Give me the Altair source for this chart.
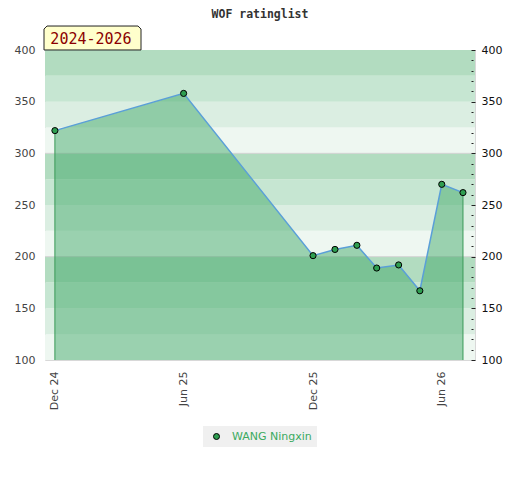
import altair as alt
import pandas as pd

# ---- data ----
dates = ["2024-12-01", "2025-06-01", "2025-12-01", "2026-01-01", "2026-02-01",
         "2026-03-01", "2026-04-01", "2026-05-01", "2026-06-01", "2026-07-01"]
ratings = [322, 358, 201, 207, 211, 189, 192, 167, 270, 262]
player = "WANG Ningxin"
period_label = "2024-2026"
title_text = "WOF ratinglist"

band_lo = list(range(100, 400, 25))
band_colors = ["#eef7f1", "#dbeee2", "#c6e6d2", "#b2dcc0"] * 3
grid_levels = [200, 300]
y_left_ticks = [100, 150, 200, 250, 300, 350, 400]
y_right_ticks = list(range(100, 401, 10))
x_tick_dates = ["2024-12-01", "2025-06-01", "2025-12-01", "2026-06-01"]
x_domain_dates = ["2024-11-17", "2026-07-18"]


def dt(s):
    y, m, d = (int(p) for p in s.split("-"))
    return alt.DateTime(year=y, month=m, date=d, utc=True)


df = pd.DataFrame({"date": dates, "rating": ratings, "player": [player] * len(dates)})
edges = df.iloc[[0, len(df) - 1]]
bands = pd.DataFrame({"lo": band_lo, "hi": [v + 25 for v in band_lo], "shade": band_colors})
grid = pd.DataFrame({"level": grid_levels})
label_df = pd.DataFrame({"label": [period_label]})

GREEN = "#3ca664"
LINE_BLUE = "#5a9fd8"
POINT_GREEN = "#2e9e50"
FONT = "DejaVu Sans"

ys = alt.Scale(domain=[100, 400], nice=False, zero=False)
xs = alt.Scale(type="utc", domain=[dt(x_domain_dates[0]), dt(x_domain_dates[1])], nice=False)

x_axis = alt.Axis(values=[dt(s) for s in x_tick_dates], format="%b %y", labelAngle=-90,
                  ticks=False, tickSize=0, domain=False, grid=False, labelPadding=11,
                  labelColor="#444", labelFont=FONT, labelFontSize=11, labelFlush=False,
                  title=None)
X = alt.X("date:T", scale=xs, axis=x_axis)

left_axis = alt.Axis(orient="left", values=y_left_ticks, ticks=False, domain=False, grid=False,
                     labelPadding=10, labelColor="#444", labelFont=FONT, labelFontSize=11,
                     title=None, zindex=1)
right_axis = alt.Axis(orient="right", values=y_right_ticks,
                      labelExpr="datum.value % 50 === 0 ? datum.label : ''",
                      tickSize={"condition": {"test": "datum.value % 50 === 0", "value": 4}, "value": 2},
                      domain=False, grid=False, offset=-4, labelPadding=6,
                      labelColor="#111", tickColor="#222", labelFont=FONT, labelFontSize=11,
                      labelOverlap=False, title=None, zindex=1)

band_layer = alt.Chart(bands).mark_rect().encode(
    y=alt.Y("lo:Q", scale=ys, axis=left_axis),
    y2="hi:Q",
    color=alt.Color("shade:N", scale=None, legend=None),
)

grid_layer = alt.Chart(grid).mark_rule(color="#d2d2d2", strokeWidth=1).encode(
    y=alt.Y("level:Q", scale=ys, axis=None)
)

area_layer = alt.Chart(df).mark_area(color=GREEN, opacity=0.47).encode(
    x=X, y=alt.Y("rating:Q", scale=ys, axis=None), y2=alt.datum(100)
)

edge_layer = alt.Chart(edges).mark_rule(color="#3a9a58", strokeWidth=1).encode(
    x=X, y=alt.Y("rating:Q", scale=ys, axis=None), y2=alt.datum(100)
)

line_layer = alt.Chart(df).mark_line(color=LINE_BLUE, strokeWidth=1.5).encode(
    x=X, y=alt.Y("rating:Q", scale=ys, axis=right_axis)
)

point_layer = alt.Chart(df).mark_point(filled=True, size=38, stroke="black", strokeWidth=1,
                                       opacity=1).encode(
    x=X, y=alt.Y("rating:Q", scale=ys, axis=None),
    fill=alt.Fill("player:N", scale=alt.Scale(range=[POINT_GREEN]),
                  legend=alt.Legend(title=None, orient="none", legendX=158, legendY=376,
                                    fillColor="#f0f0f0", padding=5, symbolType="circle",
                                    symbolSize=36, symbolStrokeColor="black",
                                    symbolStrokeWidth=1, symbolOffset=3, labelOffset=10,
                                    labelColor="#3aaa5f", labelFont=FONT, labelFontSize=11)),
)

box_path = "M-1,0.247 L-1,-0.185 L-0.938,-0.247 L0.938,-0.247 L1,-0.185 L1,0.247 Z"
box_layer = alt.Chart(label_df).mark_point(shape=box_path, size=9409, filled=True,
                                           fill="#ffffcc", stroke="#222", strokeWidth=1,
                                           opacity=1).encode(
    x=alt.value(47.5), y=alt.value(-12)
)
text_layer = alt.Chart(label_df).mark_text(font="DejaVu Sans Mono", fontSize=15, color="#8b0000",
                                           align="center", baseline="middle").encode(
    x=alt.value(46), y=alt.value(-11), text="label:N"
)

chart = alt.layer(
    band_layer, grid_layer, area_layer, edge_layer, line_layer, point_layer, box_layer, text_layer
).resolve_scale(y="independent").properties(
    width=430, height=310,
    title=alt.TitleParams(title_text, font="DejaVu Sans Mono", fontSize=11.5, fontWeight="bold",
                          color="#333", anchor="middle"),
    padding={"left": 6, "right": 5, "top": 0, "bottom": 5},
).configure_view(stroke="#d8d8d8", strokeWidth=1)

chart.save("out.html", embed_options={"renderer": "svg", "actions": False})
